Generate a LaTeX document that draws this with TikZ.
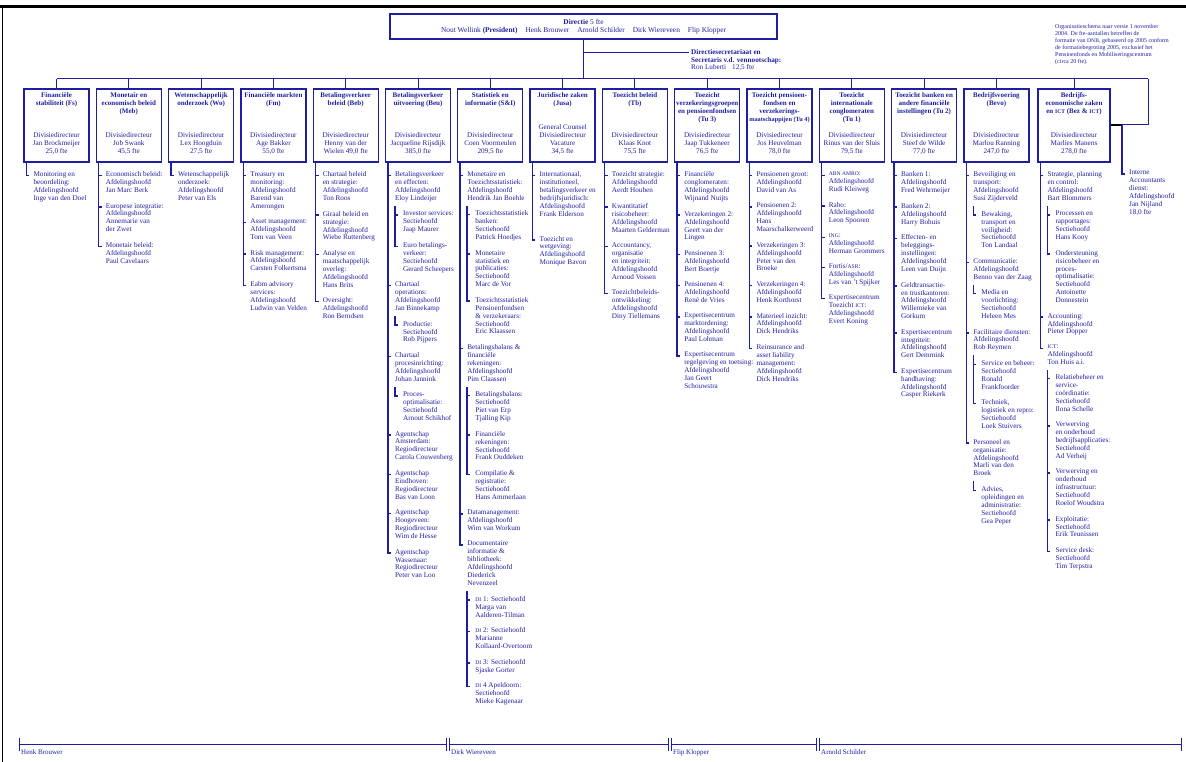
\documentclass[tikz,border=0pt]{standalone}
\usepackage{fontspec}
\setmainfont{Liberation Serif}
\usetikzlibrary{positioning}
\definecolor{dnb}{RGB}{30,30,160}
\newcommand{\txt}{\fontsize{7.2}{7.9}\selectfont}
\newcommand{\hdr}{\fontsize{7}{7.9}\selectfont\bfseries}
\newcommand{\sco}[1]{{\fontsize{5.6}{7.9}\selectfont #1}}

\tikzset{
  unit/.style={draw=dnb, line width=1.3pt, minimum width=65pt, minimum height=73pt, inner sep=0pt},
  utitle/.style={anchor=north, yshift=-4pt, inner sep=0pt, align=center, text=dnb,
    font=\hdr, execute at begin node=\strut, execute at end node=\strut},
  udir/.style={anchor=south, yshift=7pt, inner sep=0pt, align=center, text=dnb,
    font=\txt, execute at begin node=\strut, execute at end node=\strut},
  dept/.style={inner sep=0pt, align=left, text=dnb, font=\txt,
    execute at begin node=\strut, execute at end node=\strut},
  follow/.style={below=7.9pt of #1.south west, anchor=north west},
  subof/.style={below right=7.9pt and 8pt of #1.south west},
  backof/.style={below=7.9pt of #1.south west, anchor=north west, xshift=-8pt},
  board/.style={draw=dnb, line width=1.3pt, minimum width=387pt, minimum height=25pt,
    align=center, text=dnb, font=\fontsize{7.4}{8}\selectfont},
  bus/.style={draw=dnb, line width=1pt},
  trunk/.style={draw=dnb, line width=1.4pt},
  span/.style={draw=dnb, line width=0.7pt},
  spanlab/.style={inner sep=0pt, text=dnb, font=\fontsize{7}{8}\selectfont},
}

\begin{document}
\begin{tikzpicture}[x=1pt, y=1pt]
\useasboundingbox (0,0) rectangle (1186,-762);
\draw[line width=3pt] (0,-7) -- (1186,-7);
\draw[line width=0.8pt] (2,-7) -- (2,-762);

% directie
\node[board] (dir) at (583.5,-26.5) {\textbf{Directie} 5 fte\\Nout Wellink \textbf{(President)}\hspace{8pt}Henk Brouwer\hspace{8pt}Arnold Schilder\hspace{8pt}Dirk Wiereveen\hspace{8pt}Flip Klopper};
\node[dept, anchor=north west] (secr) at (691,-49) {\textbf{Directiesecretariaat en}\\\textbf{Secretaris v.d. vennootschap:}\\Ron Luberti\hspace{6pt}12,5 fte};
\node[dept, anchor=north west, font=\fontsize{6}{7}\selectfont] (note) at (1055,-24) {Organisatieschema naar versie 1 november\\2004. De fte-aantallen betreffen de\\formatie van \sco{DNB}, gebaseerd op 2005 conform\\de formatiebegroting 2005, exclusief het\\Pensioenfonds en Mobiliseringscentrum\\(circa 20 fte).};

% divisies
\node[unit, label={[utitle]north:{Financiële\\stabiliteit (Fs)}}, label={[udir]south:{Divisiedirecteur\\Jan Brockmeijer\\25,0 fte}}] (fs) at (56.5,-125.5) {};
\node[unit, label={[utitle]north:{Monetair en\\economisch beleid\\(Meb)}}, label={[udir]south:{Divisiedirecteur\\Job Swank\\45,5 fte}}] (meb) at (128.8,-125.5) {};
\node[unit, label={[utitle]north:{Wetenschappelijk\\onderzoek (Wo)}}, label={[udir]south:{Divisiedirecteur\\Lex Hoogduin\\27,5 fte}}] (wo) at (201.1,-125.5) {};
\node[unit, label={[utitle]north:{Financiële markten\\(Fm)}}, label={[udir]south:{Divisiedirecteur\\Age Bakker\\55,0 fte}}] (fm) at (273.4,-125.5) {};
\node[unit, label={[utitle]north:{Betalingsverkeer\\beleid (Beb)}}, label={[udir]south:{Divisiedirecteur\\Henny van der\\Wielen 49,0 fte}}] (beb) at (345.7,-125.5) {};
\node[unit, label={[utitle]north:{Betalingsverkeer\\uitvoering (Beu)}}, label={[udir]south:{Divisiedirecteur\\Jacqueline Rijsdijk\\385,0 fte}}] (beu) at (418.0,-125.5) {};
\node[unit, label={[utitle]north:{Statistiek en\\informatie (S\&I)}}, label={[udir]south:{Divisiedirecteur\\Coen Voormeulen\\209,5 fte}}] (si) at (490.3,-125.5) {};
\node[unit, label={[utitle]north:{Juridische zaken\\(Jusa)}}, label={[udir]south:{General Counsel\\Divisiedirecteur\\Vacature\\34,5 fte}}] (jusa) at (562.6,-125.5) {};
\node[unit, label={[utitle]north:{Toezicht beleid\\(Tb)}}, label={[udir]south:{Divisiedirecteur\\Klaas Knot\\75,5 fte}}] (tb) at (634.9,-125.5) {};
\node[unit, label={[utitle]north:{Toezicht\\verzekeringsgroepen\\en pensioenfondsen\\(Tu 3)}}, label={[udir]south:{Divisiedirecteur\\Jaap Tukkeneer\\76,5 fte}}] (tu3) at (707.2,-125.5) {};
\node[unit, label={[utitle]north:{Toezicht pensioen-\\fondsen en\\verzekerings-\\{\fontsize{6.3}{7.9}\selectfont maatschappijen (Tu 4)}}}, label={[udir]south:{Divisiedirecteur\\Jos Heuvelman\\78,0 fte}}] (tu4) at (779.5,-125.5) {};
\node[unit, label={[utitle]north:{Toezicht\\internationale\\conglomeraten\\(Tu 1)}}, label={[udir]south:{Divisiedirecteur\\Rinus van der Sluis\\79,5 fte}}] (tu1) at (851.8,-125.5) {};
\node[unit, label={[utitle]north:{Toezicht banken en\\andere financiële\\instellingen (Tu 2)}}, label={[udir]south:{Divisiedirecteur\\Steef de Wilde\\77,0 fte}}] (tu2) at (924.1,-125.5) {};
\node[unit, label={[utitle]north:{Bedrijfsvoering\\(Bevo)}}, label={[udir]south:{Divisiedirecteur\\Marlou Ranning\\247,0 fte}}] (bevo) at (996.4,-125.5) {};
\node[unit, minimum width=72pt, label={[utitle]north:{Bedrijfs-\\economische zaken\\en \sco{ICT} (Bez \& \sco{ICT})}}, label={[udir]south:{Divisiedirecteur\\Marlies Manens\\278,0 fte}}] (bez) at (1074,-125.5) {};

% bus
\coordinate (busL) at (56.5,-79);
\coordinate (busR) at (1148,-79);
\draw[bus] (busL) -- (busR);
\draw[bus] (dir.south) -- (dir.south |- busL);
\draw[bus] ([xshift=-2pt,yshift=-4pt]secr.north west) -| (dir.south);
\foreach \u in {fs,meb,wo,fm,beb,beu,si,jusa,tb,tu3,tu4,tu1,tu2,bevo,bez}
  \draw[bus] (\u.north) -- (\u.north |- busL);

% Fs
\node[dept, below right=9pt and 10pt of fs.south west] (fs1) {Monitoring en\\beoordeling:\\Afdelingshoofd\\Inge van den Doel};
\draw[trunk] ([xshift=3pt]fs.south west) |- ([xshift=-4pt,yshift=-4pt]fs1.north west);

% Meb
\node[dept, below right=9pt and 10pt of meb.south west] (meb1) {Economisch beleid:\\Afdelingshoofd\\Jan Marc Berk};
\node[dept, follow=meb1] (meb2) {Europese integratie:\\Afdelingshoofd\\Annemarie van\\der Zwet};
\node[dept, follow=meb2] (meb3) {Monetair beleid:\\Afdelingshoofd\\Paul Cavelaars};
\draw[trunk] ([xshift=3pt]meb.south west) |- ([xshift=-4pt,yshift=-4pt]meb3.north west);
\foreach \n in {meb1,meb2} \draw[trunk] ([xshift=-7pt,yshift=-4pt]\n.north west) -- ++(3pt,0);

% Wo
\node[dept, below right=9pt and 10pt of wo.south west] (wo1) {Wetenschappelijk\\onderzoek:\\Afdelingshoofd\\Peter van Els};
\draw[trunk] ([xshift=3pt]wo.south west) |- ([xshift=-4pt,yshift=-4pt]wo1.north west);

% Fm
\node[dept, below right=9pt and 10pt of fm.south west] (fm1) {Treasury en\\monitoring:\\Afdelingshoofd\\Barend van\\Amerongen};
\node[dept, follow=fm1] (fm2) {Asset management:\\Afdelingshoofd\\Tom van Veen};
\node[dept, follow=fm2] (fm3) {Risk management:\\Afdelingshoofd\\Carsten Folkertsma};
\node[dept, follow=fm3] (fm4) {Eabm advisory\\services:\\Afdelingshoofd\\Ludwin van Velden};
\draw[trunk] ([xshift=3pt]fm.south west) |- ([xshift=-4pt,yshift=-4pt]fm4.north west);
\foreach \n in {fm1,fm2,fm3} \draw[trunk] ([xshift=-7pt,yshift=-4pt]\n.north west) -- ++(3pt,0);

% Beb
\node[dept, below right=9pt and 10pt of beb.south west] (beb1) {Chartaal beleid\\en strategie:\\Afdelingshoofd\\Ton Roos};
\node[dept, follow=beb1] (beb2) {Giraal beleid en\\strategie:\\Afdelingshoofd\\Wiebe Ruttenberg};
\node[dept, follow=beb2] (beb3) {Analyse en\\maatschappelijk\\overleg:\\Afdelingshoofd\\Hans Brits};
\node[dept, follow=beb3] (beb4) {Oversight:\\Afdelingshoofd\\Ron Berndsen};
\draw[trunk] ([xshift=3pt]beb.south west) |- ([xshift=-4pt,yshift=-4pt]beb4.north west);
\foreach \n in {beb1,beb2,beb3} \draw[trunk] ([xshift=-7pt,yshift=-4pt]\n.north west) -- ++(3pt,0);

% Beu
\node[dept, below right=9pt and 10pt of beu.south west] (beu1) {Betalingsverkeer\\en effecten:\\Afdelingshoofd\\Eloy Lindeijer};
\node[dept, subof=beu1] (beu1a) {Investor services:\\Sectiehoofd\\Jaap Maurer};
\node[dept, follow=beu1a] (beu1b) {Euro betalings-\\verkeer:\\Sectiehoofd\\Gerard Scheepers};
\node[dept, backof=beu1b] (beu2) {Chartaal\\operations:\\Afdelingshoofd\\Jan Binnekamp};
\node[dept, subof=beu2] (beu2a) {Productie:\\Sectiehoofd\\Rob Pijpers};
\node[dept, backof=beu2a] (beu3) {Chartaal\\procesinrichting:\\Afdelingshoofd\\Johan Jannink};
\node[dept, subof=beu3] (beu3a) {Proces-\\optimalisatie:\\Sectiehoofd\\Arnout Schikhof};
\node[dept, backof=beu3a] (beu4) {Agentschap\\Amsterdam:\\Regiodirecteur\\Carola Couwenberg};
\node[dept, follow=beu4] (beu5) {Agentschap\\Eindhoven:\\Regiodirecteur\\Bas van Loon};
\node[dept, follow=beu5] (beu6) {Agentschap\\Hoogeveen:\\Regiodirecteur\\Wim de Hesse};
\node[dept, follow=beu6] (beu7) {Agentschap\\Wassenaar:\\Regiodirecteur\\Peter van Loo};
\draw[trunk] ([xshift=3pt]beu.south west) |- ([xshift=-4pt,yshift=-4pt]beu7.north west);
\foreach \n in {beu1,beu2,beu3,beu4,beu5,beu6} \draw[trunk] ([xshift=-7pt,yshift=-4pt]\n.north west) -- ++(3pt,0);
\draw[trunk] ([yshift=-3pt]beu1.south west) |- ([xshift=-5pt,yshift=-4pt]beu1b.north west);
\draw[trunk] ([yshift=-3pt]beu2.south west) |- ([xshift=-5pt,yshift=-4pt]beu2a.north west);
\draw[trunk] ([yshift=-3pt]beu3.south west) |- ([xshift=-5pt,yshift=-4pt]beu3a.north west);
\foreach \n in {beu1a} \draw[trunk] ([xshift=-8pt,yshift=-4pt]\n.north west) -- ++(3pt,0);

% S&I
\node[dept, below right=9pt and 10pt of si.south west] (si1) {Monetaire en\\Toezichtsstatistiek:\\Afdelingshoofd\\Hendrik Jan Boehle};
\node[dept, subof=si1] (si1a) {Toezichtsstatistiek\\banken:\\Sectiehoofd\\Patrick Hoedjes};
\node[dept, follow=si1a] (si1b) {Monetaire\\statistiek en\\publicaties:\\Sectiehoofd\\Marc de Vor};
\node[dept, follow=si1b] (si1c) {Toezichtsstatistiek\\Pensioenfondsen\\\& verzekeraars:\\Sectiehoofd\\Eric Klaassen};
\node[dept, backof=si1c] (si2) {Betalingsbalans \&\\financiële\\rekeningen:\\Afdelingshoofd\\Pim Claassen};
\node[dept, subof=si2] (si2a) {Betalingsbalans:\\Sectiehoofd\\Piet van Erp\\Tjalling Kip};
\node[dept, follow=si2a] (si2b) {Financiële\\rekeningen:\\Sectiehoofd\\Frank Ouddeken};
\node[dept, follow=si2b] (si2c) {Compilatie \&\\registratie:\\Sectiehoofd\\Hans Ammerlaan};
\node[dept, backof=si2c] (si3) {Datamanagement:\\Afdelingshoofd\\Wim van Workum};
\node[dept, follow=si3] (si4) {Documentaire\\informatie \&\\bibliotheek:\\Afdelingshoofd\\Diederick\\Nevenzeel};
\node[dept, subof=si4] (si4a) {\sco{DI} 1: Sectiehoofd\\Marga van\\Aalderen-Tilman};
\node[dept, follow=si4a] (si4b) {\sco{DI} 2: Sectiehoofd\\Marianne\\Kollaard-Overtoom};
\node[dept, follow=si4b] (si4c) {\sco{DI} 3: Sectiehoofd\\Sjaske Gorter};
\node[dept, follow=si4c] (si4d) {\sco{DI} 4 Apeldoorn:\\Sectiehoofd\\Mieke Kagenaar};
\draw[trunk] ([xshift=3pt]si.south west) |- ([xshift=-4pt,yshift=-4pt]si4.north west);
\foreach \n in {si1,si2,si3} \draw[trunk] ([xshift=-7pt,yshift=-4pt]\n.north west) -- ++(3pt,0);
\draw[trunk] ([yshift=-3pt]si1.south west) |- ([xshift=-5pt,yshift=-4pt]si1c.north west);
\draw[trunk] ([yshift=-3pt]si2.south west) |- ([xshift=-5pt,yshift=-4pt]si2c.north west);
\draw[trunk] ([yshift=-3pt]si4.south west) |- ([xshift=-5pt,yshift=-4pt]si4d.north west);
\foreach \n in {si1a,si1b,si2a,si2b,si4a,si4b,si4c} \draw[trunk] ([xshift=-8pt,yshift=-4pt]\n.north west) -- ++(3pt,0);

% Jusa
\node[dept, below right=9pt and 10pt of jusa.south west] (jusa1) {Internationaal,\\institutioneel,\\betalingsverkeer en\\bedrijfsjuridisch:\\Afdelingshoofd\\Frank Elderson};
\node[dept, follow=jusa1, yshift=-9pt] (jusa2) {Toezicht en\\wetgeving:\\Afdelingshoofd\\Monique Bavon};
\draw[trunk] ([xshift=3pt]jusa.south west) |- ([xshift=-4pt,yshift=-4pt]jusa2.north west);
\foreach \n in {jusa1} \draw[trunk] ([xshift=-7pt,yshift=-4pt]\n.north west) -- ++(3pt,0);

% Tb
\node[dept, below right=9pt and 10pt of tb.south west] (tb1) {Toezicht strategie:\\Afdelingshoofd\\Aerdt Houben};
\node[dept, follow=tb1] (tb2) {Kwantitatief\\risicobeheer:\\Afdelingshoofd\\Maarten Gelderman};
\node[dept, follow=tb2] (tb3) {Accountancy,\\organisatie\\en integriteit:\\Afdelingshoofd\\Arnoud Vossen};
\node[dept, follow=tb3] (tb4) {Toezichtbeleids-\\ontwikkeling:\\Afdelingshoofd\\Diny Tiellemans};
\draw[trunk] ([xshift=3pt]tb.south west) |- ([xshift=-4pt,yshift=-4pt]tb4.north west);
\foreach \n in {tb1,tb2,tb3} \draw[trunk] ([xshift=-7pt,yshift=-4pt]\n.north west) -- ++(3pt,0);

% Tu 3
\node[dept, below right=9pt and 10pt of tu3.south west] (tu31) {Financiële\\conglomeraten:\\Afdelingshoofd\\Wijnand Nuijts};
\node[dept, follow=tu31] (tu32) {Verzekeringen 2:\\Afdelingshoofd\\Geert van der\\Lingen};
\node[dept, follow=tu32] (tu33) {Pensioenen 3:\\Afdelingshoofd\\Bert Boertje};
\node[dept, follow=tu33] (tu34) {Pensioenen 4:\\Afdelingshoofd\\René de Vries};
\node[dept, follow=tu34] (tu35) {Expertisecentrum\\marktordening:\\Afdelingshoofd\\Paul Lohman};
\node[dept, follow=tu35] (tu36) {Expertisecentrum\\regelgeving en toetsing:\\Afdelingshoofd\\Jan Geert\\Schouwstra};
\draw[trunk] ([xshift=3pt]tu3.south west) |- ([xshift=-4pt,yshift=-4pt]tu36.north west);
\foreach \n in {tu31,tu32,tu33,tu34,tu35} \draw[trunk] ([xshift=-7pt,yshift=-4pt]\n.north west) -- ++(3pt,0);

% Tu 4
\node[dept, below right=9pt and 10pt of tu4.south west] (tu41) {Pensioenen groot:\\Afdelingshoofd\\David van As};
\node[dept, follow=tu41] (tu42) {Pensioenen 2:\\Afdelingshoofd\\Hans\\Maarschalkerweerd};
\node[dept, follow=tu42] (tu43) {Verzekeringen 3:\\Afdelingshoofd\\Peter van den\\Broeke};
\node[dept, follow=tu43] (tu44) {Verzekeringen 4:\\Afdelingshoofd\\Henk Korthorst};
\node[dept, follow=tu44] (tu45) {Materieel inzicht:\\Afdelingshoofd\\Dick Hendriks};
\node[dept, follow=tu45] (tu46) {Reinsurance and\\asset liability\\management:\\Afdelingshoofd\\Dick Hendriks};
\draw[trunk] ([xshift=3pt]tu4.south west) |- ([xshift=-4pt,yshift=-4pt]tu46.north west);
\foreach \n in {tu41,tu42,tu43,tu44,tu45} \draw[trunk] ([xshift=-7pt,yshift=-4pt]\n.north west) -- ++(3pt,0);

% Tu 1
\node[dept, below right=9pt and 10pt of tu1.south west] (tu11) {\sco{ABN AMRO}:\\Afdelingshoofd\\Rudi Kleiweg};
\node[dept, follow=tu11] (tu12) {Rabo:\\Afdelingshoofd\\Leon Spooren};
\node[dept, follow=tu12] (tu13) {\sco{ING}:\\Afdelingshoofd\\Herman Grommers};
\node[dept, follow=tu13] (tu14) {Fortis/\sco{ASR}:\\Afdelingshoofd\\Les van 't Spijker};
\node[dept, follow=tu14] (tu15) {Expertisecentrum\\Toezicht \sco{ICT}:\\Afdelingshoofd\\Evert Koning};
\draw[trunk] ([xshift=3pt]tu1.south west) |- ([xshift=-4pt,yshift=-4pt]tu15.north west);
\foreach \n in {tu11,tu12,tu13,tu14} \draw[trunk] ([xshift=-7pt,yshift=-4pt]\n.north west) -- ++(3pt,0);

% Tu 2
\node[dept, below right=9pt and 10pt of tu2.south west] (tu21) {Banken 1:\\Afdelingshoofd\\Fred Wehrmeijer};
\node[dept, follow=tu21] (tu22) {Banken 2:\\Afdelingshoofd\\Harry Bohuis};
\node[dept, follow=tu22] (tu23) {Effecten- en\\beleggings-\\instellingen:\\Afdelingshoofd\\Leen van Duijn};
\node[dept, follow=tu23] (tu24) {Geldtransactie-\\en trustkantoren:\\Afdelingshoofd\\Willemieke van\\Gorkum};
\node[dept, follow=tu24] (tu25) {Expertisecentrum\\integriteit:\\Afdelingshoofd\\Gert Demmink};
\node[dept, follow=tu25] (tu26) {Expertisecentrum\\handhaving:\\Afdelingshoofd\\Casper Riekerk};
\draw[trunk] ([xshift=3pt]tu2.south west) |- ([xshift=-4pt,yshift=-4pt]tu26.north west);
\foreach \n in {tu21,tu22,tu23,tu24,tu25} \draw[trunk] ([xshift=-7pt,yshift=-4pt]\n.north west) -- ++(3pt,0);

% Bevo
\node[dept, below right=9pt and 10pt of bevo.south west] (bevo1) {Beveiliging en\\transport:\\Afdelingshoofd\\Susi Zijderveld};
\node[dept, subof=bevo1] (bevo1a) {Bewaking,\\transport en\\veiligheid:\\Sectiehoofd\\Ton Landaal};
\node[dept, backof=bevo1a] (bevo2) {Communicatie:\\Afdelingshoofd\\Benno van der Zaag};
\node[dept, subof=bevo2] (bevo2a) {Media en\\voorlichting:\\Sectiehoofd\\Heleen Mes};
\node[dept, backof=bevo2a] (bevo3) {Facilitaire diensten:\\Afdelingshoofd\\Rob Reymen};
\node[dept, subof=bevo3] (bevo3a) {Service en beheer:\\Sectiehoofd\\Ronald\\Frankfoorder};
\node[dept, follow=bevo3a] (bevo3b) {Techniek,\\logistiek en repro:\\Sectiehoofd\\Loek Stuivers};
\node[dept, backof=bevo3b] (bevo4) {Personeel en\\organisatie:\\Afdelingshoofd\\Marli van den\\Broek};
\node[dept, subof=bevo4] (bevo4a) {Advies,\\opleidingen en\\administratie:\\Sectiehoofd\\Gea Peper};
\draw[trunk] ([xshift=3pt]bevo.south west) |- ([xshift=-4pt,yshift=-4pt]bevo4.north west);
\foreach \n in {bevo1,bevo2,bevo3} \draw[trunk] ([xshift=-7pt,yshift=-4pt]\n.north west) -- ++(3pt,0);
\draw[trunk] ([yshift=-3pt]bevo1.south west) |- ([xshift=-5pt,yshift=-4pt]bevo1a.north west);
\draw[trunk] ([yshift=-3pt]bevo2.south west) |- ([xshift=-5pt,yshift=-4pt]bevo2a.north west);
\draw[trunk] ([yshift=-3pt]bevo3.south west) |- ([xshift=-5pt,yshift=-4pt]bevo3b.north west);
\draw[trunk] ([yshift=-3pt]bevo4.south west) |- ([xshift=-5pt,yshift=-4pt]bevo4a.north west);
\foreach \n in {bevo3a} \draw[trunk] ([xshift=-8pt,yshift=-4pt]\n.north west) -- ++(3pt,0);

% Bez & ICT
\node[dept, below right=9pt and 10pt of bez.south west] (bez1) {Strategie, planning\\en control:\\Afdelingshoofd\\Bart Blommers};
\node[dept, subof=bez1] (bez1a) {Processen en\\rapportages:\\Sectiehoofd\\Hans Kooy};
\node[dept, follow=bez1a] (bez1b) {Ondersteuning\\risicobeheer en\\proces-\\optimalisatie:\\Sectiehoofd\\Antoinette\\Donnestein};
\node[dept, backof=bez1b] (bez2) {Accounting:\\Afdelingshoofd\\Pieter Dopper};
\node[dept, follow=bez2] (bez3) {\sco{ICT}:\\Afdelingshoofd\\Ton Huis a.i.};
\node[dept, subof=bez3] (bez3a) {Relatiebeheer en\\service-\\coördinatie:\\Sectiehoofd\\Ilona Schelle};
\node[dept, follow=bez3a] (bez3b) {Verwerving\\en onderhoud\\bedrijfsapplicaties:\\Sectiehoofd\\Ad Verheij};
\node[dept, follow=bez3b] (bez3c) {Verwerving en\\onderhoud\\infrastructuur:\\Sectiehoofd\\Roelof Woudstra};
\node[dept, follow=bez3c] (bez3d) {Exploitatie:\\Sectiehoofd\\Erik Teunissen};
\node[dept, follow=bez3d] (bez3e) {Service desk:\\Sectiehoofd\\Tim Terpstra};
\draw[trunk] ([xshift=3pt]bez.south west) |- ([xshift=-4pt,yshift=-4pt]bez3.north west);
\foreach \n in {bez1,bez2} \draw[trunk] ([xshift=-7pt,yshift=-4pt]\n.north west) -- ++(3pt,0);
\draw[trunk] ([yshift=-3pt]bez1.south west) |- ([xshift=-5pt,yshift=-4pt]bez1b.north west);
\draw[trunk] ([yshift=-3pt]bez3.south west) |- ([xshift=-5pt,yshift=-4pt]bez3e.north west);
\foreach \n in {bez1a,bez3a,bez3b,bez3c,bez3d} \draw[trunk] ([xshift=-8pt,yshift=-4pt]\n.north west) -- ++(3pt,0);

% interne accountantsdienst
\node[dept, anchor=north west] (iad) at (1129,-170) {Interne\\Accountants\\dienst:\\Afdelingshoofd\\Jan Nijland\\18,0 fte};
\coordinate (iadk) at (1122,-125);
\draw[bus] (busR) |- (iadk);
\draw[line width=1.4pt] (bez.east |- iadk) -- (iadk);
\draw[trunk] (iadk) |- ([xshift=-4pt,yshift=-4pt]iad.north west);

% verdeling directieleden
\coordinate (h0) at (19,-744);  \coordinate (h1) at (446,-744);
\coordinate (d0) at (449,-744); \coordinate (d1) at (668,-744);
\coordinate (k0) at (671,-744); \coordinate (k1) at (816,-744);
\coordinate (a0) at (819,-744); \coordinate (a1) at (1181,-744);
\foreach \s/\e in {h0/h1,d0/d1,k0/k1,a0/a1} \draw[span] (\s) -- (\e);
\foreach \c in {h0,h1,d0,d1,k0,k1,a0,a1} \draw[span] ([yshift=6pt]\c) -- ([yshift=-7pt]\c);
\node[spanlab, below right=5pt and 2pt of h0] (hbl) {Henk Brouwer};
\node[spanlab, below right=5pt and 2pt of d0] (dwl) {Dirk Wiereveen};
\node[spanlab, below right=5pt and 2pt of k0] (fkl) {Flip Klopper};
\node[spanlab, below right=5pt and 2pt of a0] (asl) {Arnold Schilder};
\end{tikzpicture}
\end{document}
